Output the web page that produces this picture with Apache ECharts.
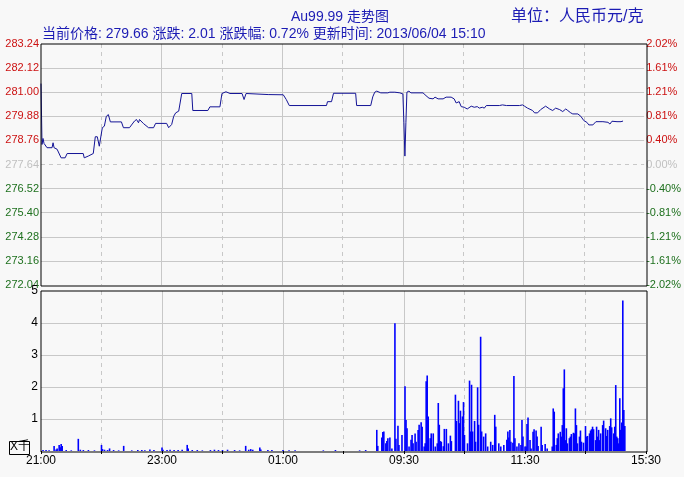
<!DOCTYPE html>
<html><head><meta charset="utf-8">
<script src="https://cdn.jsdelivr.net/npm/echarts@6/dist/echarts.min.js"></script>
<style>html,body{margin:0;padding:0;background:#f8f8f8}#c{width:684px;height:477px}</style>
</head><body><div id="c"></div><script>
// ---- data ----
const timeLabels = ['21:00','23:00','01:00','09:30','11:30','15:30'];
const priceMin = 272.04, priceMax = 283.24, priceStep = 1.12;
const prevClose = 277.64;
const volumeTicks = [0,1,2,3,4,5];
const currentPrice = '279.66', priceChange = '2.01', changePct = '0.72%', updateTime = '2013/06/04 15:10';
// [minute since 21:00 (trading minutes), price]
const pricePoints = [[0,281.40],[1,278.57],[2,278.85],[3,278.62],[4,278.57],[6,278.42],[11,278.42],[12,278.65],[13,278.42],[16,278.35],[17,278.26],[20,277.95],[24,277.95],[26,278.15],[42,278.15],[43,277.95],[47,278.03],[52,278.15],[54,278.93],[56,278.93],[58,278.49],[59,278.49],[61,279.35],[63,279.42],[65,279.88],[67,279.96],[69,279.62],[80,279.62],[82,279.35],[88,279.35],[93,279.66],[95,279.73],[97,279.58],[98,279.73],[102,279.54],[107,279.35],[112,279.35],[114,279.55],[125,279.55],[127,279.35],[130,279.50],[132,279.88],[134,280.04],[137,280.12],[140,280.94],[150,280.94],[151,280.15],[166,280.15],[168,280.32],[178,280.32],[180,280.94],[184,281.02],[188,280.94],[200,280.94],[202,280.66],[204,280.94],[226,280.89],[241,280.88],[244,280.66],[247,280.38],[284,280.38],[285,280.56],[289,280.56],[291,280.95],[313,280.95],[314,280.38],[328,280.38],[330,280.78],[332,281.00],[334,281.05],[338,280.97],[345,280.97],[347,281.00],[352,281.00],[353,281.05],[357,280.97],[358,281.03],[360,280.92],[361,279.58],[362,278.03],[363,279.58],[364,281.00],[366,281.05],[368,280.97],[380,280.97],[383,280.84],[386,280.72],[390,280.69],[392,280.77],[395,280.69],[400,280.69],[403,280.77],[408,280.77],[411,280.69],[413,280.50],[416,280.56],[418,280.33],[421,280.30],[424,280.22],[428,280.35],[431,280.30],[434,280.33],[436,280.26],[439,280.30],[441,280.26],[443,280.38],[456,280.38],[459,280.41],[463,280.38],[476,280.38],[479,280.41],[481,280.35],[484,280.26],[489,280.15],[491,280.04],[494,280.04],[497,280.19],[502,280.35],[506,280.22],[509,280.15],[512,280.26],[516,280.19],[519,280.10],[522,280.22],[524,280.15],[527,280.04],[529,279.99],[534,279.99],[537,279.88],[540,279.68],[543,279.60],[545,279.48],[549,279.48],[552,279.63],[559,279.63],[564,279.60],[566,279.52],[568,279.65],[573,279.63],[574,279.68],[577,279.63],[579,279.66]];
// [minute, volume (thousands)]
const volumeBars = [[2,0.03],[5,0.03],[8,0.02],[13,0.16],[15,0.05],[16,0.08],[18,0.19],[19,0.12],[20,0.22],[21,0.16],[25,0.03],[30,0.02],[37,0.38],[39,0.04],[42,0.03],[47,0.03],[53,0.02],[60,0.19],[61,0.06],[63,0.04],[66,0.03],[68,0.08],[72,0.03],[77,0.02],[82,0.16],[90,0.02],[96,0.03],[100,0.03],[103,0.02],[108,0.05],[112,0.03],[120,0.11],[121,0.04],[125,0.03],[128,0.04],[132,0.03],[136,0.03],[140,0.04],[145,0.19],[146,0.08],[150,0.03],[155,0.03],[160,0.02],[168,0.03],[172,0.04],[176,0.03],[180,0.03],[185,0.04],[192,0.03],[197,0.02],[203,0.16],[206,0.04],[208,0.06],[210,0.04],[217,0.11],[218,0.05],[225,0.03],[229,0.03],[240,0.03],[246,0.02],[252,0.02],[280,0.02],[292,0.03],[316,0.02],[322,0.03],
[333,0.66],[334,0.16],[338,0.42],[339,0.59],[340,0.61],[342,0.24],[343,0.31],[344,0.40],[346,0.42],[348,0.08],[351,3.99],[352,0.38],[354,0.79],[355,0.19],[358,0.50],[361,2.02],[362,0.97],[363,0.71],[365,0.14],[367,0.35],[368,0.50],[369,0.24],[371,0.55],[372,0.29],[374,0.66],[375,0.82],[377,0.90],[378,0.76],[380,0.14],[381,0.24],[382,2.18],[383,2.36],[384,1.08],[386,0.40],[387,0.55],[389,0.55],[391,0.14],[393,0.24],[394,1.50],[395,0.82],[396,0.31],[397,0.29],[399,0.15],[400,0.69],[402,0.69],[404,0.24],[406,0.48],[407,0.31],[411,1.76],[412,0.94],[414,1.57],[415,0.87],[416,1.26],[418,1.08],[419,1.53],[420,0.50],[423,0.24],[425,2.20],[426,0.61],[427,2.07],[428,0.61],[430,0.94],[431,0.29],[433,1.99],[434,0.82],[436,3.57],[437,0.61],[439,0.45],[441,0.55],[443,0.14],[446,0.29],[448,0.19],[450,1.13],[451,0.76],[454,0.24],[456,0.14],[459,0.19],[462,0.35],[463,0.61],[464,0.42],[465,0.66],[466,0.29],[468,0.26],[469,2.34],[470,0.40],[472,0.14],[474,0.24],[476,0.19],[477,0.97],[478,0.45],[480,0.14],[481,0.14],[482,0.84],[483,1.05],[485,0.34],[486,0.08],[488,0.60],[489,0.68],[491,0.64],[492,0.45],[493,0.16],[496,0.76],[497,0.19],[500,0.22],[502,0.08],[507,0.14],[508,1.33],[509,1.23],[511,0.19],[512,0.40],[513,0.55],[515,0.60],[516,0.45],[517,0.81],[518,1.96],[519,2.55],[520,0.34],[521,0.71],[522,0.24],[524,0.40],[525,0.45],[526,0.53],[528,0.57],[529,0.55],[530,1.33],[531,0.81],[532,0.24],[534,0.45],[535,0.64],[536,0.29],[538,0.26],[540,0.78],[541,0.45],[542,0.47],[544,0.55],[545,0.64],[546,0.68],[547,0.76],[548,0.68],[550,0.34],[551,0.76],[552,0.45],[553,0.66],[554,0.34],[555,0.55],[557,0.81],[558,0.95],[560,0.71],[561,0.47],[562,0.66],[564,0.78],[565,1.02],[566,0.74],[568,0.55],[569,0.76],[570,2.06],[571,0.45],[572,0.40],[573,0.24],[574,1.65],[575,0.66],[576,0.89],[577,4.70],[578,1.28],[579,0.78]];

// ---- chart ----
const FONT = '"Liberation Sans","Noto Sans CJK SC",sans-serif';
const GRID_COLOR = '#c8c8c8';
const RED = '#cc1111', GREEN = '#1e701e', GRAYTXT = '#c0c0c0', BLUE = '#1c1cb4';
const chart = echarts.init(document.getElementById('c'), null, {renderer: 'canvas'});

const priceTickValues = [];
for (let i = 0; Math.round((priceMin + i * priceStep) * 100) <= Math.round(priceMax * 100); i++) {
  priceTickValues.push(+(priceMin + i * priceStep).toFixed(2));
}
function cls(v) { return Math.abs(v - prevClose) < 0.005 ? 'g' : (v > prevClose ? 'r' : 'd'); }
const rich = {
  r: {color: RED, fontSize: 11, fontFamily: FONT},
  g: {color: GRAYTXT, fontSize: 11, fontFamily: FONT},
  d: {color: GREEN, fontSize: 11, fontFamily: FONT}
};
const timeLabelAt = v => (v % 120 === 0 ? (timeLabels[v / 120] || '') : '');

const hLines = priceTickValues.slice(1, -1).map(v => ({
  yAxis: v,
  lineStyle: {color: GRID_COLOR, width: 1, type: cls(v) === 'g' ? [4, 4] : 'solid'}
}));

function xAxes(gridIndex, withLabels) {
  return [
    {gridIndex, type: 'value', min: 0, max: 600, interval: 60,
      axisLine: {show: false},
      axisTick: {show: withLabels, length: 3, lineStyle: {color: '#000'}},
      axisLabel: {show: withLabels, formatter: timeLabelAt, color: '#000', fontSize: 12, fontFamily: FONT, margin: 4, showMinLabel: true, showMaxLabel: true},
      splitLine: {show: true, showMinLine: false, showMaxLine: false, lineStyle: {color: GRID_COLOR, type: [4, 4], width: 1}}},
    {gridIndex, type: 'value', min: 0, max: 600, interval: 120,
      axisLine: {show: false}, axisTick: {show: false}, axisLabel: {show: false},
      splitLine: {show: true, showMinLine: false, showMaxLine: false, lineStyle: {color: GRID_COLOR, type: 'solid', width: 1}}}
  ];
}

const option = {
  animation: false,
  backgroundColor: '#f8f8f8',
  textStyle: {fontFamily: FONT},
  graphic: [
    {type: 'text', left: 291, top: 10, style: {text: 'Au99.99 走势图', fill: BLUE, font: '14px ' + FONT}},
    {type: 'text', left: 511, top: 9, style: {text: '单位：人民币元/克', fill: BLUE, font: '16px ' + FONT}},
    {type: 'text', left: 42, top: 27, style: {text: '当前价格: ' + currentPrice + ' 涨跌: ' + priceChange + ' 涨跌幅: ' + changePct + ' 更新时间: ' + updateTime, fill: BLUE, font: '14px ' + FONT}},
    {type: 'rect', left: 9, top: 441, shape: {width: 20, height: 13}, style: {fill: 'transparent', stroke: '#000', lineWidth: 1}},
    {type: 'text', left: 10, top: 441, style: {text: 'X千', fill: '#000', font: '12px ' + FONT}},
    {type: 'rect', left: 40.5, top: 43.5, shape: {width: 606, height: 242}, style: {fill: 'transparent', stroke: '#000', lineWidth: 1}, z: 100},
    {type: 'rect', left: 40.5, top: 290.5, shape: {width: 606, height: 161}, style: {fill: 'transparent', stroke: '#000', lineWidth: 1}, z: 100}
  ],
  grid: [
    {left: 41, top: 44, width: 605, height: 241, show: false},
    {left: 41, top: 291, width: 605, height: 160, show: false}
  ],
  xAxis: [].concat(xAxes(0, false), xAxes(1, true)),
  yAxis: [
    {gridIndex: 0, type: 'value', position: 'left', min: priceMin, max: priceMax, interval: priceStep,
      axisLine: {show: false}, axisTick: {show: false}, splitLine: {show: false},
      axisLabel: {margin: 2, formatter: v => '{' + cls(v) + '|' + v.toFixed(2) + '}', rich}},
    {gridIndex: 0, type: 'value', position: 'right', min: priceMin, max: priceMax, interval: priceStep,
      axisLine: {show: false}, axisTick: {show: false}, splitLine: {show: false},
      axisLabel: {margin: 2, formatter: v => '{' + cls(v) + '|' + ((v - prevClose) / prevClose * 100).toFixed(2) + '%}', rich}},
    {gridIndex: 1, type: 'value', min: volumeTicks[0], max: volumeTicks[volumeTicks.length - 1], interval: 1,
      axisLine: {show: false}, axisTick: {show: false},
      splitLine: {show: true, showMinLine: false, showMaxLine: false, lineStyle: {color: GRID_COLOR, width: 1}},
      axisLabel: {margin: 3, color: '#000', fontSize: 12, fontFamily: FONT, formatter: v => (v === 0 ? '' : String(v))}}
  ],
  series: [
    {type: 'line', xAxisIndex: 0, yAxisIndex: 0, data: pricePoints, showSymbol: false, symbol: 'none',
      lineStyle: {color: '#141496', width: 1}, z: 5,
      markLine: {silent: true, symbol: 'none', label: {show: false}, data: hLines, z: 1}},
    {type: 'bar', xAxisIndex: 2, yAxisIndex: 2, data: volumeBars, barWidth: 1.6,
      itemStyle: {color: '#0000ff'}}
  ]
};
chart.setOption(option);
</script></body></html>
